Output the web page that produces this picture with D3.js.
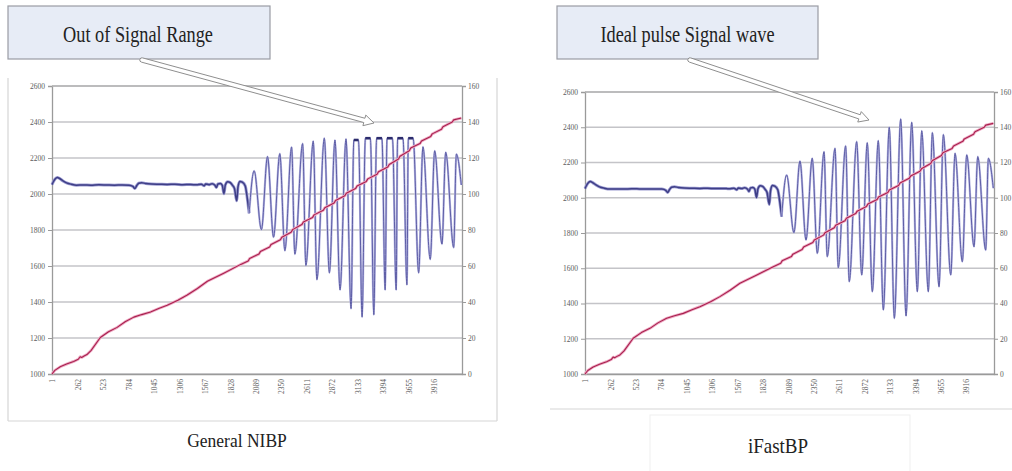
<!DOCTYPE html>
<html>
<head>
<meta charset="utf-8">
<script src="https://cdn.jsdelivr.net/npm/d3@7"></script>
<style>
  body { margin: 0; background: #fff; }
  svg { display: block; }
</style>
</head>
<body>
<svg id="chart" width="1012" height="471"></svg>
<script>
// Sample-number category labels along the bottom axis
const sampleTicks = [1, 262, 523, 784, 1045, 1306, 1567, 1828, 2089, 2350, 2611, 2872, 3133, 3394, 3655, 3916];
const sampleCount = 4200;
// Left axis: raw sensor counts; right axis: cuff pressure (mmHg)
const signalTicks = [1000, 1200, 1400, 1600, 1800, 2000, 2200, 2400, 2600];
const pressureTicks = [0, 20, 40, 60, 80, 100, 120, 140, 160];

// Resting sensor signal before oscillations begin: [sample, counts]
const restSignal = [
  [1, 2052], [15, 2068], [35, 2085], [55, 2092], [80, 2086], [110, 2074], [150, 2062], [200, 2054],
  [250, 2049], [320, 2050], [400, 2049], [480, 2051], [560, 2050], [640, 2049], [720, 2050], [790, 2049],
  [830, 2042], [850, 2030], [868, 2046], [890, 2060], [920, 2063], [960, 2058], [1020, 2055], [1100, 2054],
  [1180, 2053], [1260, 2054], [1340, 2052], [1420, 2053], [1480, 2051], [1530, 2054], [1560, 2046], [1575, 2056],
  [1610, 2052], [1640, 2057], [1670, 2048], [1685, 2036], [1700, 2056], [1725, 2058], [1745, 2048], [1762, 2002],
  [1776, 2050], [1800, 2068], [1825, 2064], [1850, 2048], [1870, 2030], [1893, 1962], [1906, 2040], [1925, 2070],
  [1950, 2066], [1980, 2045], [2000, 1980], [2020, 1893]
];

// General NIBP: pulse peaks saturate at the sensor limit (flat tops)
const nibpPulses = [
  [2020, 1893], [2071, 2129], [2146, 1802], [2208, 2208], [2270, 1760], [2334, 2224], [2386, 1685], [2455, 2261], [2488, 1666],
  [2568, 2280], [2601, 1603], [2677, 2294], [2714, 1524], [2790, 2310], [2842, 1562], [2899, 2300], [2951, 1467],
  [3012, 2306], [3064, 1363], [3092, 2300], [3140, 2300], [3177, 1316], [3210, 2310], [3262, 2310], [3297, 1329],
  [3325, 2310], [3380, 2310], [3413, 1467], [3432, 2310], [3488, 2310], [3526, 1467], [3540, 2310], [3596, 2310],
  [3636, 1495], [3650, 2310], [3700, 2310], [3756, 1562], [3800, 2262], [3875, 1637], [3920, 2240], [3995, 1722],
  [4033, 2232], [4115, 1703], [4142, 2222], [4193, 2050]
];
const nibpLimit = 2300;

// iFastBP: full pulse amplitude is kept
const ifastPulses = [
  [2020, 1893], [2071, 2129], [2146, 1802], [2208, 2208], [2270, 1760], [2334, 2224], [2386, 1685], [2455, 2261], [2488, 1666],
  [2568, 2280], [2601, 1603], [2677, 2294], [2714, 1524], [2790, 2318], [2842, 1562], [2899, 2312], [2951, 1467],
  [3012, 2324], [3064, 1363], [3125, 2400], [3177, 1316], [3242, 2447], [3297, 1329], [3355, 2428], [3413, 1467],
  [3458, 2380], [3526, 1467], [3567, 2369], [3636, 1495], [3680, 2358], [3756, 1562], [3800, 2252], [3875, 1637],
  [3920, 2243], [3995, 1722], [4033, 2233], [4115, 1703], [4142, 2224], [4193, 2054]
];

// Cuff inflation pressure (mmHg) against sample number
const cuffPressure = [
  [1, 0], [30, 2], [85, 4], [150, 5.5], [223, 7], [270, 8.2], [290, 9.6], [305, 9.2], [330, 10], [359, 10.8],
  [400, 13], [496, 20.3], [580, 23.5], [668, 25.9], [750, 29], [839, 31.6], [920, 33], [1010, 34.4], [1100, 36.5],
  [1181, 38.2], [1290, 41], [1386, 43.9], [1490, 47.5], [1592, 51.5], [1760, 56], [1934, 60.9], [2010, 62.8],
  [2025, 64.2], [2120, 66.6], [2135, 68], [2230, 70.6], [2245, 72], [2340, 74.6], [2355, 76], [2450, 78.8],
  [2465, 80.2], [2560, 83], [2575, 84.4], [2670, 87], [2685, 88.4], [2780, 91], [2795, 92.4], [2890, 95],
  [2905, 96.4], [3000, 99], [3015, 100.4], [3110, 103], [3125, 104.4], [3220, 107], [3235, 108.4], [3330, 111],
  [3345, 112.4], [3440, 115], [3455, 116.4], [3550, 119.4], [3565, 121], [3660, 124], [3675, 125.5], [3770, 128],
  [3785, 129.4], [3880, 132], [3895, 133.4], [3990, 136], [4005, 137.4], [4100, 140], [4115, 141.2], [4193, 142.2]
];

const panels = [
  {
    title: "General NIBP", titleX: 237, titleY: 447, titleSize: 17.5,
    note: "Out of Signal Range", box: [8, 6, 262, 53], noteX: 138, noteY: 41.5,
    arrow: [142, 60, 374, 123],
    plot: { x0: 52, x1: 462, y0: 86, y1: 374 },
    frame: [[8, 78, 8, 421], [8, 421, 497, 421], [497, 78, 497, 421]],
    pulses: nibpPulses, limit: nibpLimit
  },
  {
    title: "iFastBP", titleX: 778, titleY: 453, titleSize: 19,
    note: "Ideal pulse Signal wave", box: [557, 6, 261, 53], noteX: 687.5, noteY: 41.5,
    arrow: [690, 60, 869, 120],
    plot: { x0: 585, x1: 994, y0: 92, y1: 374 },
    frame: [[550, 409, 1012, 409]],
    titleBox: [650, 415, 260, 60],
    pulses: ifastPulses, limit: null
  }
];

const svg = d3.select("#chart");

function hollowArrow(g, x0, y0, x1, y1) {
  const dx = x1 - x0, dy = y1 - y0, L = Math.hypot(dx, dy);
  const ux = dx / L, uy = dy / L, nx = -uy, ny = ux;
  const hw = 2.2, hh = 5.5, hl = 10;
  const bx = x1 - ux * hl, by = y1 - uy * hl;
  const p = d3.path();
  p.moveTo(x0 + nx * hw, y0 + ny * hw);
  p.lineTo(bx + nx * hw, by + ny * hw);
  p.lineTo(bx + nx * hh, by + ny * hh);
  p.lineTo(x1, y1);
  p.lineTo(bx - nx * hh, by - ny * hh);
  p.lineTo(bx - nx * hw, by - ny * hw);
  p.lineTo(x0 - nx * hw, y0 - ny * hw);
  p.arcTo(x0 - ux * hw - nx * hw, y0 - uy * hw - ny * hw, x0 - ux * hw, y0 - uy * hw, hw);
  p.arcTo(x0 - ux * hw + nx * hw, y0 - uy * hw + ny * hw, x0 + nx * hw, y0 + ny * hw, hw);
  p.closePath();
  g.append("path").attr("d", p.toString())
    .attr("fill", "#fff").attr("stroke", "#8e8e8e").attr("stroke-width", 1);
}

panels.forEach(cfg => {
  const g = svg.append("g");
  const { x0, x1, y0, y1 } = cfg.plot;

  const x = d3.scaleLinear().domain([1, sampleCount]).range([x0, x1]);
  const ySig = d3.scaleLinear().domain([1000, 2600]).range([y1, y0]);
  const yPr = d3.scaleLinear().domain([0, 160]).range([y1, y0]);

  // panel frame
  cfg.frame.forEach(([a, b, c, d]) => g.append("line")
    .attr("x1", a).attr("y1", b).attr("x2", c).attr("y2", d)
    .attr("stroke", "#d6d6d6").attr("stroke-width", 1.2));
  if (cfg.titleBox) {
    g.append("rect").attr("x", cfg.titleBox[0]).attr("y", cfg.titleBox[1])
      .attr("width", cfg.titleBox[2]).attr("height", cfg.titleBox[3])
      .attr("fill", "none").attr("stroke", "#efefef");
  }

  // horizontal gridlines
  g.append("g").selectAll("line").data(signalTicks).join("line")
    .attr("x1", x0).attr("x2", x1)
    .attr("y1", d => ySig(d)).attr("y2", d => ySig(d))
    .attr("stroke", "#c4c4c8").attr("stroke-width", 1.4);

  // axes
  const leftAxis = d3.axisLeft(ySig).tickValues(signalTicks).tickSize(4).tickPadding(3).tickFormat(d3.format("d"));
  const rightAxis = d3.axisRight(yPr).tickValues(pressureTicks).tickSize(4).tickPadding(2).tickFormat(d3.format("d"));
  const bottomAxis = d3.axisBottom(x).tickValues(sampleTicks).tickSize(0).tickFormat(d3.format("d"));

  const styleAxis = sel => {
    sel.select(".domain").attr("stroke", "#9a9a9a").attr("stroke-width", 1.3);
    sel.selectAll(".tick line").attr("stroke", "#9a9a9a");
    sel.selectAll("text").attr("fill", "#5c5c5c").attr("font-size", 7.5)
      .attr("font-family", "Liberation Serif, serif");
  };
  g.append("g").attr("transform", `translate(${x0},0)`).call(leftAxis).call(styleAxis);
  g.append("g").attr("transform", `translate(${x1},0)`).call(rightAxis).call(styleAxis);
  const bx = g.append("g").attr("transform", `translate(0,${y1})`).call(bottomAxis).call(styleAxis);
  bx.selectAll("text")
    .attr("transform", "rotate(-90)")
    .attr("text-anchor", "end")
    .attr("x", -5).attr("y", 0).attr("dy", "0.35em");
  // top border of plot area
  g.append("line").attr("x1", x0).attr("x2", x1).attr("y1", y0).attr("y2", y0)
    .attr("stroke", "#b4b4b4").attr("stroke-width", 1.3);

  // sensor signal: resting part (dense, darker) and pulse part (thinner)
  const sigLine = d3.line().x(d => x(d[0])).y(d => ySig(d[1])).curve(d3.curveMonotoneX);
  g.append("path").attr("d", sigLine(restSignal)).attr("fill", "none")
    .attr("stroke", "#9c9cd2").attr("stroke-width", 3).attr("stroke-linejoin", "round");
  g.append("path").attr("d", sigLine(restSignal)).attr("fill", "none")
    .attr("stroke", "#3e3e86").attr("stroke-width", 1.5).attr("stroke-linejoin", "round");
  g.append("path").attr("d", sigLine(cfg.pulses)).attr("fill", "none")
    .attr("stroke", "#b6b6e2").attr("stroke-width", 2.2).attr("stroke-linejoin", "round");
  g.append("path").attr("d", sigLine(cfg.pulses)).attr("fill", "none")
    .attr("stroke", "#5e5ea6").attr("stroke-width", 1).attr("stroke-linejoin", "round");

  // saturated stretches drawn heavier
  if (cfg.limit !== null) {
    const flats = [];
    for (let i = 1; i < cfg.pulses.length; i++) {
      if (cfg.pulses[i - 1][1] >= cfg.limit && cfg.pulses[i][1] >= cfg.limit) flats.push([cfg.pulses[i - 1], cfg.pulses[i]]);
    }
    g.append("g").selectAll("line").data(flats).join("line")
      .attr("x1", d => x(d[0][0])).attr("x2", d => x(d[1][0]))
      .attr("y1", d => ySig(d[0][1])).attr("y2", d => ySig(d[1][1]))
      .attr("stroke", "#2c2c6c").attr("stroke-width", 2.6);
  }

  // cuff pressure
  const prLine = d3.line().x(d => x(d[0])).y(d => yPr(d[1]));
  g.append("path").attr("d", prLine(cuffPressure)).attr("fill", "none")
    .attr("stroke", "#eeaac4").attr("stroke-width", 2.8).attr("stroke-linejoin", "round");
  g.append("path").attr("d", prLine(cuffPressure)).attr("fill", "none")
    .attr("stroke", "#a8204e").attr("stroke-width", 1.1).attr("stroke-linejoin", "round");

  // callout
  const [bxX, bxY, bxW, bxH] = cfg.box;
  g.append("rect").attr("x", bxX).attr("y", bxY).attr("width", bxW).attr("height", bxH)
    .attr("fill", "#e7ecf6").attr("stroke", "#9a9ca4").attr("stroke-width", 1.2);
  g.append("text")
    .attr("transform", `translate(${cfg.noteX},${cfg.noteY}) scale(1,1.28)`)
    .attr("text-anchor", "middle")
    .attr("font-family", "Liberation Serif, Times New Roman, serif")
    .attr("font-size", 18.3).attr("fill", "#222")
    .text(cfg.note);
  hollowArrow(g, ...cfg.arrow);

  // caption
  g.append("text")
    .attr("transform", `translate(${cfg.titleX},${cfg.titleY}) scale(1,1.08)`)
    .attr("text-anchor", "middle")
    .attr("font-family", "Liberation Serif, Times New Roman, serif")
    .attr("font-size", cfg.titleSize).attr("fill", "#222")
    .text(cfg.title);
});
</script>
</body>
</html>
